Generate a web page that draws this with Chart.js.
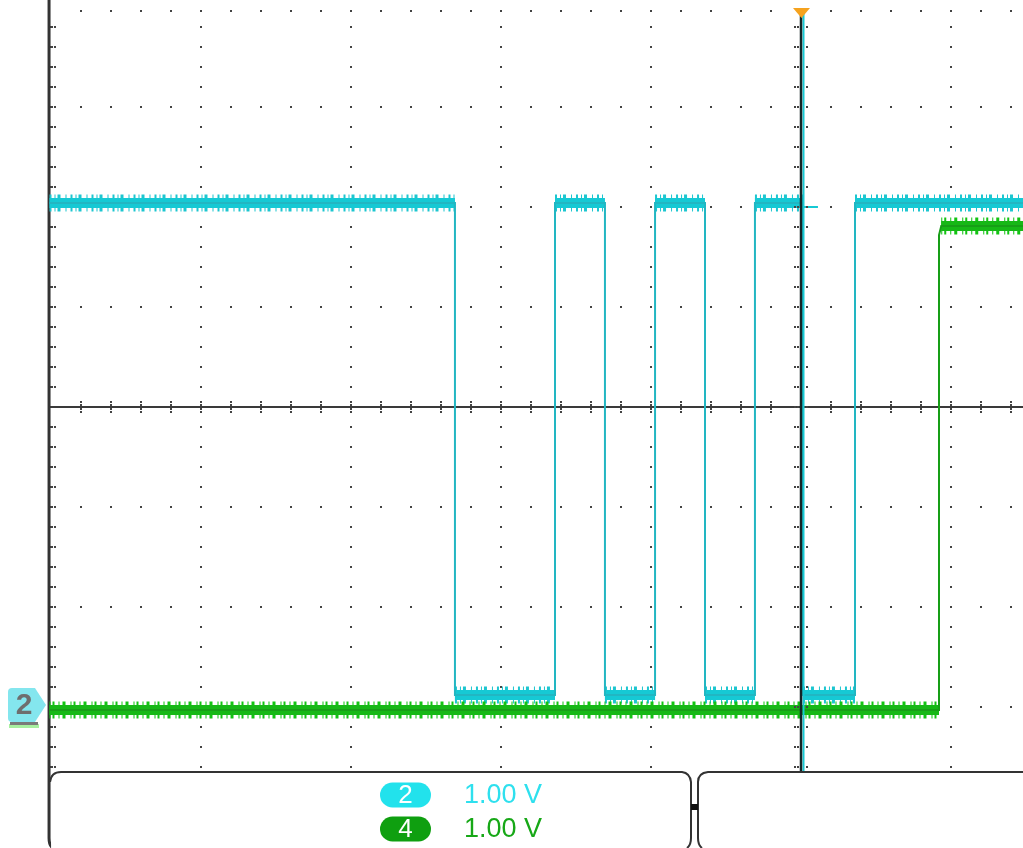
<!DOCTYPE html>
<html>
<head>
<meta charset="utf-8">
<style>
  body { margin: 0; background: #fff; }
  #scope { display: block; }
</style>
<script src="https://cdn.jsdelivr.net/npm/chart.js@4"></script>
</head>
<body>
<canvas id="scope" width="1023" height="848"></canvas>
<script>
// time in divisions (0 = trigger), level in divisions (0 = centre line)
const cyanTimes = [-5.01, -2.307, -2.307, -1.64, -1.64, -1.307, -1.307, -0.973, -0.973, -0.64, -0.64, -0.307, -0.307, 0.013, 0.013, 0.36, 0.36, 1.48];
const cyanLevels = [2.04, 2.04, -2.88, -2.88, 2.04, 2.04, -2.88, -2.88, 2.04, 2.04, -2.88, -2.88, 2.04, 2.04, -2.88, -2.88, 2.04, 2.04];
const greenTimes = [-5.01, 0.92, 0.92, 0.935, 1.48];
const greenLevels = [-3.03, -3.03, 1.72, 1.81, 1.81];
const trigTimes = [0.02, 0.113];
const trigLevels = [2.0, 2.0];
const gridCols = [-5, -4, -3, -2, -1, 1];
const gridRows = [3, 2, 1, -1, -2, -3];
const channelNames = ['2', '4'];
const channelScales = ['1.00 V', '1.00 V'];

const CYAN = '#16c9d4';
const CYAN_EDGE = '#22b6c2';
const GREEN = '#16b816';
const GREEN_EDGE = '#179e17';

function toPoints(xs, ys) {
  return xs.map((x, i) => ({ x: x, y: ys[i] }));
}

// only the flat parts, used for the noisy band
function plateaus(xs, ys) {
  const out = [];
  for (let i = 0; i < xs.length - 1; i++) {
    if (ys[i] === ys[i + 1]) {
      out.push({ x: xs[i], y: ys[i] }, { x: xs[i + 1], y: ys[i + 1] }, { x: xs[i + 1], y: null });
    }
  }
  return out;
}

function dot(ctx, x, y) {
  ctx.fillRect(Math.round(x) - 1, Math.round(y) - 1, 2, 2);
}

const graticule = {
  id: 'graticule',
  beforeDatasetsDraw(chart) {
    const ctx = chart.ctx;
    const xs = chart.scales.x, ys = chart.scales.y;
    const left = xs.getPixelForValue(-5.013);
    const right = chart.chartArea.right;
    const top = ys.getPixelForValue(3.96);
    ctx.save();
    ctx.fillStyle = '#444';
    // dotted columns
    gridCols.forEach(c => {
      const px = xs.getPixelForValue(c);
      for (let v = -3.6; v <= 4.001; v += 0.2) {
        const py = ys.getPixelForValue(v);
        if (py < top - 1) continue;
        dot(ctx, px, py);
      }
    });
    // dotted rows
    gridRows.concat([3.96]).forEach(r => {
      const py = ys.getPixelForValue(r);
      for (let t = -4.8; t <= 1.5; t += 0.2) {
        const px = xs.getPixelForValue(t);
        if (px > right) break;
        dot(ctx, px, py);
      }
    });
    // ticks on the left border
    for (let v = -3.6; v <= 4.001; v += 0.2) {
      const py = ys.getPixelForValue(v);
      if (py < top - 1) continue;
      dot(ctx, left + 3, py);
      dot(ctx, left + 6, py);
    }
    // centre horizontal line with ticks
    const cy = ys.getPixelForValue(0);
    ctx.strokeStyle = '#3a3a3a';
    ctx.lineWidth = 2;
    ctx.beginPath();
    ctx.moveTo(left, cy);
    ctx.lineTo(right, cy);
    ctx.stroke();
    for (let t = -4.8; t <= 1.5; t += 0.2) {
      const px = xs.getPixelForValue(t);
      if (px > right) break;
      dot(ctx, px, cy - 5);
      dot(ctx, px, cy - 2);
      dot(ctx, px, cy + 2);
      dot(ctx, px, cy + 5);
    }
    // left axis border
    ctx.strokeStyle = '#333';
    ctx.lineWidth = 3;
    ctx.beginPath();
    ctx.moveTo(left, 0);
    ctx.lineTo(left, 838);
    ctx.quadraticCurveTo(left, 846, left + 4, 848);
    ctx.stroke();
    ctx.restore();
  },
  afterDatasetsDraw(chart) {
    const ctx = chart.ctx;
    const xs = chart.scales.x, ys = chart.scales.y;
    const left = xs.getPixelForValue(-5.013);
    const cx = xs.getPixelForValue(0);
    const panelTop = ys.getPixelForValue(-3.65);
    ctx.save();
    // centre vertical line (trigger position)
    ctx.strokeStyle = CYAN;
    ctx.lineWidth = 2;
    ctx.beginPath();
    ctx.moveTo(cx + 2.5, 12);
    ctx.lineTo(cx + 2.5, panelTop);
    ctx.stroke();
    ctx.strokeStyle = '#142426';
    ctx.lineWidth = 2.5;
    ctx.beginPath();
    ctx.moveTo(cx, 12);
    ctx.lineTo(cx, panelTop);
    ctx.stroke();
    ctx.fillStyle = '#444';
    for (let v = -3.6; v <= 4.001; v += 0.2) {
      const py = ys.getPixelForValue(v);
      if (py < 20) continue;
      dot(ctx, cx - 6, py);
      dot(ctx, cx - 3, py);
      dot(ctx, cx + 6, py);
    }
    // trigger marker
    ctx.fillStyle = '#f5a21e';
    ctx.beginPath();
    ctx.moveTo(cx - 8, 8);
    ctx.lineTo(cx + 9, 8);
    ctx.lineTo(cx + 0.5, 18);
    ctx.closePath();
    ctx.fill();

    // channel 2 ground marker
    const my = ys.getPixelForValue(-2.98);
    ctx.fillStyle = '#a8f0a0';
    ctx.fillRect(9, my + 19, 30, 4);
    ctx.fillStyle = '#7a7a7a';
    ctx.fillRect(10, my + 17, 28, 3);
    ctx.fillStyle = '#84e6ee';
    ctx.beginPath();
    ctx.moveTo(12, my - 17);
    ctx.lineTo(35, my - 17);
    ctx.lineTo(46, my);
    ctx.lineTo(35, my + 17);
    ctx.lineTo(12, my + 17);
    ctx.quadraticCurveTo(8, my + 17, 8, my + 13);
    ctx.lineTo(8, my - 13);
    ctx.quadraticCurveTo(8, my - 17, 12, my - 17);
    ctx.fill();
    ctx.fillStyle = '#6e6e6e';
    ctx.font = 'bold 30px "Liberation Sans"';
    ctx.textAlign = 'center';
    ctx.textBaseline = 'middle';
    ctx.fillText(channelNames[0], 24, my + 1);

    // bottom readout panels
    ctx.fillStyle = '#fff';
    ctx.fillRect(left + 2, panelTop, chart.width, chart.height - panelTop);
    ctx.strokeStyle = '#333';
    ctx.lineWidth = 2;
    ctx.beginPath();
    ctx.moveTo(left + 1, panelTop + 10);
    ctx.quadraticCurveTo(left + 2, panelTop, left + 12, panelTop);
    ctx.lineTo(682, panelTop);
    ctx.quadraticCurveTo(690, panelTop + 1, 691, panelTop + 10);
    ctx.lineTo(691, 838);
    ctx.quadraticCurveTo(691, 845, 687, 848);
    ctx.stroke();
    ctx.beginPath();
    ctx.moveTo(1023, panelTop);
    ctx.lineTo(708, panelTop);
    ctx.quadraticCurveTo(698, panelTop + 1, 698, panelTop + 10);
    ctx.lineTo(698, 838);
    ctx.quadraticCurveTo(698, 845, 702, 848);
    ctx.stroke();
    ctx.fillStyle = '#111';
    ctx.fillRect(691, 804, 7, 6);

    const pills = [
      { y: 795, fill: '#22e2ec', text: '#2ee0ee' },
      { y: 829, fill: '#0f9f10', text: '#17a817' }
    ];
    pills.forEach((p, i) => {
      ctx.fillStyle = p.fill;
      ctx.beginPath();
      ctx.roundRect(380, p.y - 12.5, 51, 25, 12.5);
      ctx.fill();
      ctx.fillStyle = '#fff';
      ctx.font = '26px "Liberation Sans"';
      ctx.textAlign = 'center';
      ctx.textBaseline = 'middle';
      ctx.fillText(channelNames[i], 405.5, p.y + 1);
      ctx.fillStyle = p.text;
      ctx.textAlign = 'left';
      ctx.font = '27px "Liberation Sans"';
      ctx.fillText(channelScales[i], 464, p.y + 1);
    });
    ctx.restore();
  }
};

const ctx = document.getElementById('scope').getContext('2d');
new Chart(ctx, {
  type: 'line',
  data: {
    datasets: [
      {
        label: 'ch4',
        data: toPoints(greenTimes, greenLevels),
        borderColor: GREEN_EDGE,
        borderWidth: 2,
        order: 0
      },
      {
        label: 'ch4 band',
        data: plateaus(greenTimes, greenLevels),
        borderColor: GREEN,
        borderWidth: 10,
        order: 1
      },
      {
        label: 'ch4 noise',
        data: plateaus(greenTimes, greenLevels),
        borderColor: '#12c412',
        borderWidth: 17,
        borderDash: [1, 2, 2, 4, 1, 3, 3, 5],
        order: 2
      },
      {
        label: 'ch2 trigger level',
        data: toPoints(trigTimes, trigLevels),
        borderColor: CYAN,
        borderWidth: 2,
        order: 3
      },
      {
        label: 'ch2',
        data: toPoints(cyanTimes, cyanLevels),
        borderColor: CYAN_EDGE,
        borderWidth: 2,
        order: 4
      },
      {
        label: 'ch2 band',
        data: plateaus(cyanTimes, cyanLevels),
        borderColor: CYAN,
        borderWidth: 10,
        order: 5
      },
      {
        label: 'ch2 noise',
        data: plateaus(cyanTimes, cyanLevels),
        borderColor: '#1cc6d0',
        borderWidth: 17,
        borderDash: [2, 3, 1, 2, 3, 5, 1, 4],
        order: 6
      }
    ]
  },
  options: {
    responsive: false,
    animation: false,
    devicePixelRatio: 1,
    layout: { padding: 0 },
    elements: {
      point: { radius: 0 },
      line: { tension: 0, borderCapStyle: 'butt', fill: false }
    },
    spanGaps: false,
    plugins: {
      legend: { display: false },
      tooltip: { enabled: false }
    },
    scales: {
      x: { type: 'linear', display: false, min: -801 / 150, max: 222 / 150 },
      y: { type: 'linear', display: false, min: -4.41, max: 4.07 }
    }
  },
  plugins: [graticule]
});
</script>
</body>
</html>
